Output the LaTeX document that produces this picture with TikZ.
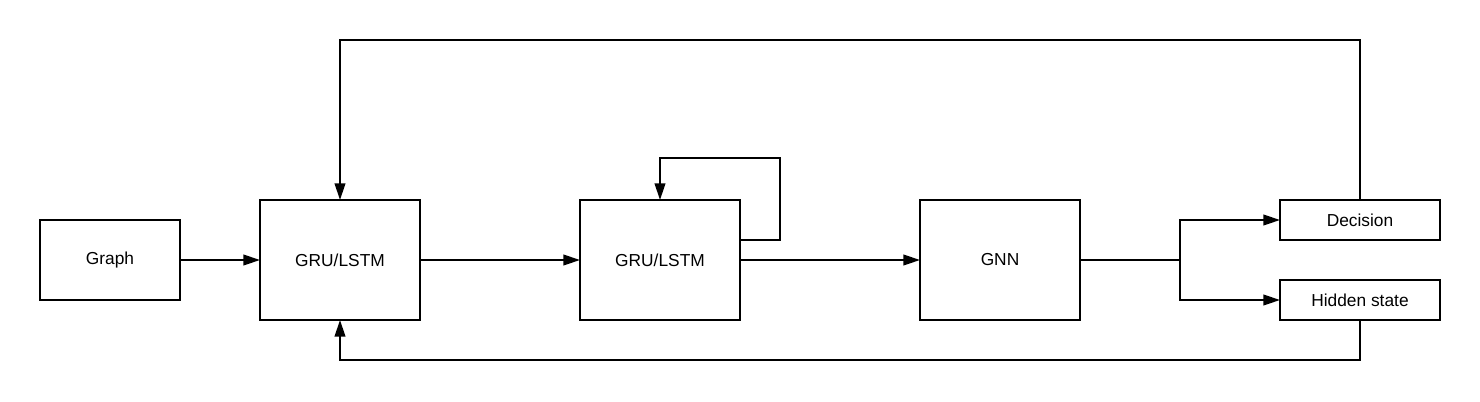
\documentclass[tikz,border=0pt]{standalone}
\usepackage{fontspec}
\setmainfont{Liberation Sans}
\usepackage{tikz}
\usetikzlibrary{positioning,arrows.meta,calc}
\tikzset{
  arr/.style={-{Triangle[length=12.5pt, width=8pt]}, line width=1.5pt, color=black},
  box/.style={rectangle, draw=black, line width=1.5pt, align=center, inner sep=0pt, outer sep=0pt, font=\fontsize{13}{15}\selectfont},
  bigbox/.style={box, minimum width=120pt, minimum height=90pt},
  outbox/.style={box, minimum width=120pt, minimum height=30pt}
}
\begin{document}
\begin{tikzpicture}[node distance=60pt]
\useasboundingbox (-82.5pt,-105.75pt) rectangle (1027.5pt,195pt);
\node[box, minimum width=105pt, minimum height=60pt] (graph) {Graph};
\node[bigbox, right=of graph] (enc) {GRU/LSTM};
\node[bigbox, right=120pt of enc] (rec) {GRU/LSTM};
\node[bigbox, right=135pt of rec] (gnn) {GNN};
\node[outbox, above right=15pt and 150pt of gnn.east] (dec) {Decision};
\node[outbox, below right=15pt and 150pt of gnn.east] (hid) {Hidden state};
\draw[arr] (graph) -- (enc);
\draw[arr] (enc) -- (rec);
\draw[arr] (rec) -- (gnn);
% self loop
\draw[arr] ([yshift=15pt]rec.east) -- ++(30pt,0) -- ++(0,61.5pt) -| (rec.north);
% split to outputs
\draw[line width=1.5pt] (gnn.east) -- ++(75pt,0) coordinate (split);
\draw[arr] (split) |- (dec.west);
\draw[arr] (split) |- (hid.west);
% feedback
\draw[arr] (dec.north) -- ++(0,120pt) -| (enc.north);
\draw[arr] (hid.south) -- ++(0,-30pt) -| (enc.south);
\end{tikzpicture}
\end{document}
